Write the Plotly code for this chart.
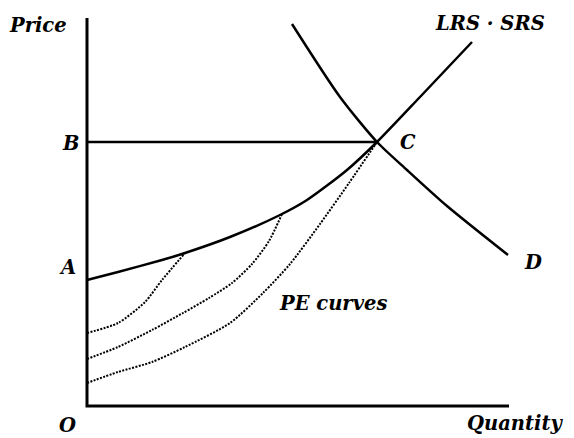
import plotly.graph_objects as go

# Axes extents (quantity, price units)
axis_q = [0, 0, 422]
axis_p = [388, 0, 0]

# Price level B up to point C
b_q = [0, 290]
b_p = [264, 264]

# LRS / SRS supply curve (solid)
lrs_q = [0, 31, 75, 98, 143, 193, 220, 260, 290, 333, 385]
lrs_p = [126, 134, 146, 153, 169, 191, 206, 236, 264, 309, 364]

# Demand curve D
d_q = [205, 253, 290, 320, 360, 421]
d_p = [382, 309, 264, 236, 200, 151]

# PE curves (dotted)
pe1_q = [0, 31, 58, 75, 98]
pe1_p = [73, 83, 104, 126, 153]
pe2_q = [0, 31, 65, 96, 122, 145, 165, 182, 195]
pe2_p = [47, 59, 76, 93, 108, 123, 142, 165, 192]
pe3_q = [0, 31, 65, 98, 143, 176, 203, 233, 262, 290]
pe3_p = [23, 34, 44, 59, 83, 113, 142, 182, 223, 264]

# Text labels
label_text = ["Price", "B", "A", "O", "C", "D", "LRS · SRS", "PE curves", "Quantity"]
label_q = [-49, -17, -20, -20, 321, 446, 403, 246, 428]
label_p = [381, 263, 139, -19, 264, 144, 383, 103, -17]

fig = go.Figure()

def add(q, p, width, dash="solid", shape="spline"):
    fig.add_trace(go.Scatter(x=q, y=p, mode="lines", hoverinfo="skip",
                             line=dict(color="black", width=width, dash=dash,
                                       shape=shape, smoothing=0.7)))

add(axis_q, axis_p, 3, shape="linear")
add(b_q, b_p, 2.5, shape="linear")
add(lrs_q, lrs_p, 2.5)
add(d_q, d_p, 2.5)
for q, p in [(pe1_q, pe1_p), (pe2_q, pe2_p), (pe3_q, pe3_p)]:
    add(q, p, 2, dash="2px,1.4px")

for t, q, p in zip(label_text, label_q, label_p):
    fig.add_annotation(x=q, y=p, text=t, showarrow=False,
                       font=dict(family="DejaVu Serif", size=19.5, color="black",
                                 weight="bold", style="italic"),
                       xanchor="center", yanchor="middle")

fig.update_layout(
    width=574, height=438,
    margin=dict(l=0, r=0, t=0, b=0),
    paper_bgcolor="white", plot_bgcolor="white",
    showlegend=False,
    xaxis=dict(range=[-87, 487], visible=False, fixedrange=True),
    yaxis=dict(range=[-32, 406], visible=False, fixedrange=True),
)

fig.write_html("out.html",
               config={"displayModeBar": False, "staticPlot": True},
               post_script="document.body.style.margin='0px';"
                           "document.body.style.overflow='hidden';")
